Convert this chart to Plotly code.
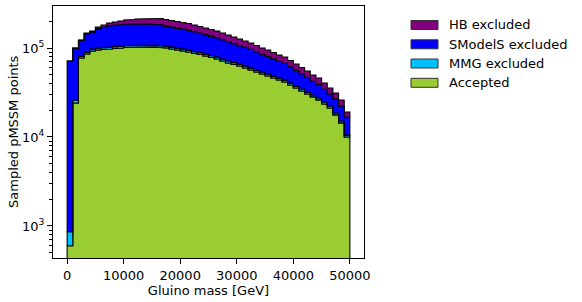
import numpy as np
import plotly.graph_objects as go

# Histogram bin edges (GeV), 1000 GeV bins
bin_edges = list(range(0, 51000, 1000))

accepted = [600, 24100, 77200, 85600, 92500, 95000, 96200, 97400, 98700, 100000,
            101300, 101300, 102600, 102600, 102600, 102600, 101300, 100000, 97400, 95000,
            92500, 90200, 86700, 84500, 81300, 78200, 75200, 71500, 67900, 65300,
            62800, 59600, 56600, 53700, 51000, 48400, 46000, 43700, 41500, 38400,
            35500, 32900, 30400, 28200, 26100, 23500, 21200, 17700, 14400, 10000]

mmg_excluded = [260, 1950, 3860, 4280, 4630, 4750, 4810, 4870, 4940, 5000,
                5070, 5070, 5130, 5130, 5130, 5130, 5070, 5000, 4870, 4750,
                4630, 4510, 4340, 4230, 4070, 3910, 3760, 3580, 3400, 3270,
                3140, 2980, 2830, 2690, 2550, 2420, 2300, 2190, 2080, 1920,
                1780, 1650, 1520, 1410, 1310, 1180, 1060, 890, 720, 500]

smodels_excluded = [70390, 73550, 40980, 54870, 54240, 65150, 70390, 75930, 76860, 78400,
                    79880, 79930, 78470, 79470, 78970, 76970, 76130, 71000, 69230, 67350,
                    65670, 63890, 61560, 58020, 55830, 53690, 51690, 48920, 46400, 43330,
                    40260, 39320, 37270, 34310, 31450, 29930, 27380, 25010, 23720, 21170,
                    18880, 16730, 14920, 12620, 11670, 9650, 8150, 8090, 7180, 6280]

hb_excluded = [200, 400, 960, 2650, 3980, 7400, 10050, 12900, 15600, 17900,
               20350, 23000, 25800, 27500, 29100, 31100, 32200, 33300, 32400, 31600,
               30800, 30000, 28850, 27750, 26700, 25700, 24700, 23400, 22300, 21100,
               20100, 18000, 17100, 16000, 15000, 14200, 13300, 12500, 11900, 10850,
               9900, 9050, 8270, 7450, 6900, 6060, 5120, 4490, 3750, 2320]

series_names = ["Accepted", "MMG excluded", "SModelS excluded", "HB excluded"]
series_colors = ["#9ACD32", "#00BFFF", "#0000FF", "#800080"]
series_values = [accepted, mmg_excluded, smodels_excluded, hb_excluded]

x_tick_vals = [0, 10000, 20000, 30000, 40000, 50000]
x_tick_text = ["0", "10000", "20000", "30000", "40000", "50000"]
y_tick_vals = [1e3, 1e4, 1e5]
y_tick_text = ["10<sup>3</sup>", "10<sup>4</sup>", "10<sup>5</sup>"]

FONT = "DejaVu Sans"
W, H = 582, 302
ML, MR, MT, MB = 53, 218, 6, 44
PW, PH = W - ML - MR, H - MT - MB

fig = go.Figure()

edges = np.array(bin_edges, dtype=float)
cum = np.zeros(len(accepted))
floor = 1.0
for name, color, vals in zip(series_names, series_colors, series_values):
    vals = np.array(vals, dtype=float)
    top = cum + vals
    bot = np.where(cum > 0, cum, floor)
    xs, ys = [edges[0]], [bot[0]]
    for i in range(len(vals)):
        xs += [edges[i], edges[i + 1]]
        ys += [top[i], top[i]]
    for i in reversed(range(len(vals))):
        xs += [edges[i + 1], edges[i]]
        ys += [bot[i], bot[i]]
    xs.append(edges[0]); ys.append(bot[0])
    fig.add_trace(go.Scatter(x=xs, y=ys, mode="lines", fill="toself",
                             fillcolor=color, line=dict(color="black", width=1.1),
                             name=name, showlegend=False, hoverinfo="skip"))
    cum = top

# minor log ticks
minor_vals = [m * 10 ** k for k in (2, 3, 4, 5) for m in range(2, 10)
              if 430 < m * 10 ** k < 2.9e5]

def px2paper_x(px):
    return (px - ML) / PW

def px2paper_y(py):
    return (H - MB - py) / PH

# Legend drawn manually (matplotlib-style patches)
shapes = []
annotations = []
legend_order = list(reversed(list(zip(series_names, series_colors))))
legend_centers = [25, 44.3, 63.5, 82.8]
for (name, color), cy in zip(legend_order, legend_centers):
    shapes.append(dict(type="rect", xref="paper", yref="paper",
                       x0=px2paper_x(411), x1=px2paper_x(438),
                       y0=px2paper_y(cy + 4.5), y1=px2paper_y(cy - 4.5),
                       fillcolor=color, line=dict(color="#333333", width=1)))
    annotations.append(dict(text=name, xref="paper", yref="paper",
                            x=px2paper_x(447), y=px2paper_y(cy),
                            xanchor="left", yanchor="middle", showarrow=False,
                            font=dict(family=FONT, size=13, color="black")))

# y-axis title (placed like matplotlib's)
annotations.append(dict(text="Sampled pMSSM points", xref="paper", yref="paper",
                        x=px2paper_x(13), y=0.5, xanchor="center", yanchor="middle",
                        textangle=-90, showarrow=False,
                        font=dict(family=FONT, size=13, color="black")))

fig.update_layout(
    width=W, height=H,
    margin=dict(l=ML, r=MR, t=MT, b=MB, autoexpand=False),
    paper_bgcolor="white", plot_bgcolor="white",
    font=dict(family=FONT, size=13, color="black"),
    showlegend=False,
    shapes=shapes, annotations=annotations,
    xaxis=dict(range=[-2500, 52500], tickvals=x_tick_vals, ticktext=x_tick_text,
               ticks="outside", ticklen=5, tickwidth=1, tickcolor="black",
               showline=True, linecolor="black", linewidth=1, mirror=True,
               showgrid=False, zeroline=False,
               title=dict(text="Gluino mass [GeV]", standoff=3,
                          font=dict(family=FONT, size=13))),
    yaxis=dict(type="log", range=[2.64, 5.472], tickvals=y_tick_vals,
               ticktext=y_tick_text,
               ticks="outside", ticklen=5, tickwidth=1, tickcolor="black",
               minor=dict(tickvals=minor_vals, ticks="outside", ticklen=3,
                          tickwidth=1, tickcolor="black", showgrid=False),
               showline=True, linecolor="black", linewidth=1, mirror=True,
               showgrid=False, zeroline=False),
)

fig.write_html("out.html", config={"displayModeBar": False},
               post_script="document.body.style.margin='0';document.body.style.padding='0';")
